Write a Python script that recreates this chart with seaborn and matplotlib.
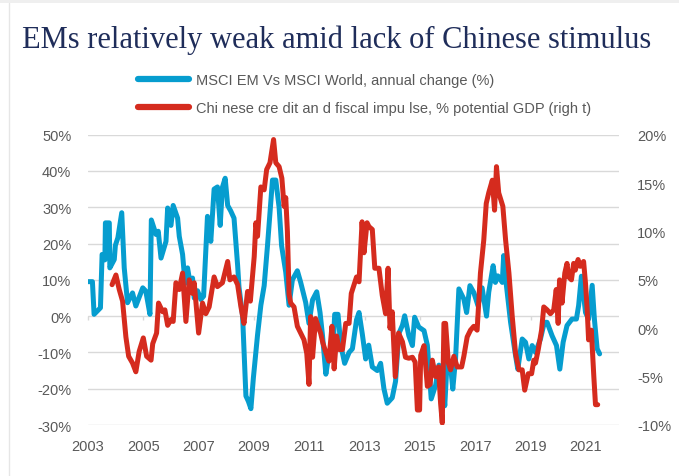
import matplotlib
matplotlib.use("Agg")
import matplotlib.pyplot as plt
import seaborn as sns
from matplotlib.lines import Line2D
from matplotlib.patches import Rectangle

# MSCI EM vs MSCI World, annual change (%) -- left axis
em_years = [2003.00, 2003.16, 2003.22, 2003.45, 2003.51, 2003.61, 2003.63, 2003.77, 2003.79, 2003.95,
            2003.99, 2004.08, 2004.22, 2004.31, 2004.43, 2004.61, 2004.73, 2004.98, 2005.09, 2005.24,
            2005.29, 2005.46, 2005.54, 2005.64, 2005.82, 2005.88, 2006.00, 2006.08, 2006.24, 2006.30,
            2006.42, 2006.51, 2006.60, 2006.72, 2006.78, 2006.84, 2006.96, 2007.08, 2007.18, 2007.32,
            2007.44, 2007.56, 2007.68, 2007.78, 2007.86, 2007.96, 2008.05, 2008.16, 2008.28, 2008.41,
            2008.46, 2008.59, 2008.71, 2008.80, 2008.89, 2008.98, 2009.13, 2009.25, 2009.37, 2009.49,
            2009.67, 2009.79, 2009.91, 2010.00, 2010.15, 2010.27, 2010.39, 2010.57, 2010.69, 2010.87,
            2010.99, 2011.12, 2011.27, 2011.39, 2011.48, 2011.60, 2011.71, 2011.84, 2011.92, 2012.04,
            2012.14, 2012.28, 2012.44, 2012.56, 2012.71, 2012.80, 2012.92, 2013.04, 2013.15, 2013.28,
            2013.46, 2013.58, 2013.70, 2013.82, 2014.00, 2014.12, 2014.24, 2014.37, 2014.45, 2014.60,
            2014.73, 2014.81, 2014.96, 2015.15, 2015.27, 2015.41, 2015.57, 2015.69, 2015.81, 2015.90,
            2015.99, 2016.11, 2016.19, 2016.29, 2016.41, 2016.59, 2016.69, 2016.81, 2016.95, 2017.10,
            2017.25, 2017.41, 2017.49, 2017.65, 2017.73, 2017.82, 2017.98, 2018.03, 2018.13, 2018.28,
            2018.46, 2018.54, 2018.70, 2018.82, 2018.94, 2019.06, 2019.18, 2019.36, 2019.50, 2019.60,
            2019.78, 2019.94, 2020.06, 2020.18, 2020.32, 2020.50, 2020.66, 2020.74, 2020.84, 2020.99,
            2021.10, 2021.23, 2021.31, 2021.41, 2021.50]
em_values = [9.5, 9.5, 0.5, 2.3, 17.0, 15.5, 25.7, 25.7, 13.3, 15.6,
             19.5, 21.6, 28.5, 13.3, 3.7, 6.4, 2.8, 7.8, 6.9, 0.5,
             26.5, 22.5, 23.4, 16.0, 20.6, 29.8, 25.0, 30.5, 27.0, 22.0,
             17.0, 9.0, 13.3, 7.8, 10.5, 5.0, 7.0, 4.6, 5.5, 27.5,
             20.6, 35.0, 35.6, 25.0, 35.5, 38.0, 30.5, 29.0, 27.0, 14.0,
             8.0, 0.0, -22.0, -23.5, -25.5, -17.0, -5.2, 3.0, 8.4, 19.4,
             37.5, 37.5, 30.0, 19.4, 12.1, 3.0, 10.0, 12.5, 9.3, 3.8,
             -2.0, 4.5, 6.7, 1.0, -5.4, -16.0, -10.5, -12.0, 0.5, 0.5,
             -8.0, -13.0, -10.0, -9.0, -1.0, 1.0, -5.0, -11.8, -8.0, -14.0,
             -15.0, -13.0, -20.0, -24.0, -22.5, -18.0, -4.8, -2.5, 0.1, -5.4,
             -8.1, -0.3, -3.0, -4.0, -8.0, -22.8, -19.0, -13.5, -16.4, -24.7,
             -11.8, -13.7, -20.1, -11.8, 7.5, 4.7, 1.0, 8.4, 6.5, 2.9,
             7.8, 0.0, 6.6, 13.9, 9.3, 11.1, 9.3, 16.7, 8.4, -1.7,
             -10.9, -14.6, -6.3, -7.2, -11.8, -8.1, -10.0, -6.3, -1.7, -1.7,
             -5.4, -8.1, -14.6, -7.2, -2.6, -0.8, -0.8, 2.9, 11.0, 1.0,
             -0.8, 8.5, -0.8, -9.0, -10.4]

# Chinese credit and fiscal impulse, % potential GDP -- right axis
cn_years = [2003.87, 2004.01, 2004.13, 2004.25, 2004.37, 2004.47, 2004.61, 2004.73, 2004.85, 2005.00,
            2005.12, 2005.28, 2005.34, 2005.48, 2005.55, 2005.70, 2005.78, 2005.88, 2006.00, 2006.08,
            2006.18, 2006.30, 2006.42, 2006.54, 2006.66, 2006.78, 2006.84, 2007.00, 2007.14, 2007.26,
            2007.38, 2007.56, 2007.68, 2007.86, 2008.05, 2008.13, 2008.28, 2008.41, 2008.53, 2008.64,
            2008.77, 2008.87, 2009.01, 2009.07, 2009.13, 2009.25, 2009.37, 2009.46, 2009.58, 2009.71,
            2009.79, 2009.91, 2010.01, 2010.09, 2010.15, 2010.21, 2010.27, 2010.33, 2010.45, 2010.57,
            2010.69, 2010.81, 2010.91, 2010.99, 2011.05, 2011.12, 2011.23, 2011.32, 2011.41, 2011.49,
            2011.60, 2011.71, 2011.82, 2011.90, 2011.99, 2012.08, 2012.20, 2012.32, 2012.44, 2012.52,
            2012.62, 2012.71, 2012.80, 2012.91, 2012.98, 2013.09, 2013.16, 2013.28, 2013.37, 2013.52,
            2013.64, 2013.76, 2013.85, 2013.92, 2014.00, 2014.11, 2014.23, 2014.37, 2014.48, 2014.60,
            2014.73, 2014.83, 2014.91, 2014.99, 2015.03, 2015.15, 2015.27, 2015.37, 2015.45, 2015.57,
            2015.67, 2015.75, 2015.81, 2015.87, 2015.93, 2016.03, 2016.11, 2016.23, 2016.35, 2016.51,
            2016.59, 2016.71, 2016.83, 2016.95, 2017.07, 2017.19, 2017.31, 2017.40, 2017.49, 2017.62,
            2017.70, 2017.77, 2017.85, 2018.00, 2018.10, 2018.22, 2018.34, 2018.46, 2018.58, 2018.70,
            2018.79, 2018.92, 2019.04, 2019.12, 2019.18, 2019.28, 2019.40, 2019.48, 2019.60, 2019.72,
            2019.84, 2019.93, 2020.00, 2020.05, 2020.14, 2020.24, 2020.32, 2020.38, 2020.48, 2020.56,
            2020.62, 2020.72, 2020.80, 2020.92, 2020.99, 2021.05, 2021.10, 2021.20, 2021.29, 2021.35,
            2021.43]
cn_values = [4.5, 5.5, 4.0, 2.8, -0.9, -2.9, -3.6, -4.5, -2.4, -1.0,
             -2.9, -3.3, -1.6, -0.5, 2.6, 1.7, 1.9, 0.3, 0.9, 0.7,
             4.7, 4.0, 5.7, 0.7, 5.0, 3.6, 4.7, -0.5, 2.6, 1.5,
             2.2, 5.3, 4.3, 4.7, 6.9, 5.0, 5.3, 4.5, 2.2, 0.5,
             3.8, 2.8, 7.4, 10.9, 9.5, 14.6, 14.3, 16.4, 17.1, 19.5,
             17.1, 16.7, 15.5, 12.6, 13.5, 10.0, 3.5, 2.6, 2.2, 0.2,
             -0.5, -1.2, -2.6, -5.8, 1.2, -3.0, 1.0, 0.2, -0.5, -1.5,
             -2.5, -3.4, 0.2, -4.2, -0.8, -2.2, -2.2, 0.5, 0.5, 3.6,
             4.5, 5.3, 4.8, 11.0, 7.8, 10.9, 10.5, 10.2, 6.2, 6.2,
             3.4, 1.5, 6.2, 0.0, 1.7, -5.0, -0.5, -1.4, -3.0, -3.1,
             -3.0, -3.5, -8.45, -8.45, -2.8, -1.8, -6.0, -5.8, -3.3, -5.0,
             -4.0, -7.8, -9.8, 0.5, 0.5, -3.6, -4.3, -2.9, -4.0, -4.0,
             -2.9, -0.9, -0.2, 0.2, -0.2, 5.7, 9.1, 12.9, 14.0, 15.3,
             12.2, 16.7, 14.0, 12.6, 9.1, 5.7, 1.2, -2.6, -4.3, -4.3,
             -6.4, -4.7, -4.7, -3.3, -3.6, -2.2, -0.2, 2.2, 1.9, 1.5,
             1.9, 4.0, 0.5, 5.0, 2.6, 5.7, 6.7, 5.3, 5.0, 6.7,
             6.0, 7.1, 6.4, 6.9, 4.6, 1.9, -1.2, -0.2, -5.0, -7.9,
             -7.9]

year_ticks = [2003, 2005, 2007, 2009, 2011, 2013, 2015, 2017, 2019, 2021]
left_ticks = [50, 40, 30, 20, 10, 0, -10, -20, -30]
right_ticks = [20, 15, 10, 5, 0, -5, -10]

title = "EMs relatively weak amid lack of Chinese stimulus"
label_em = "MSCI EM Vs MSCI World, annual change (%)"
label_cn = "Chi nese cre dit an d fiscal impu lse, % potential GDP (righ t)"

BLUE = "#069DCF"
RED = "#D52B1E"
GRID = "#D9D9D9"
TEXT = "#595959"

sns.set_theme(style="white")
plt.rcParams["font.family"] = ["Liberation Sans", "DejaVu Sans"]

W, H = 679, 477
fig = plt.figure(figsize=(W / 100, H / 100), dpi=100)
ax = fig.add_axes([88 / W, 1 - 426 / H, (619 - 88) / W, (426 - 135.7) / H])
ax2 = ax.twinx()

# panel edge
fig.patches.append(Rectangle((0, 1 - 4 / H), 1, 4 / H, transform=fig.transFigure,
                             facecolor="#EFEFEF", edgecolor="none", zorder=0))
fig.add_artist(Line2D([9 / W, 9 / W], [0, 1 - 4 / H], transform=fig.transFigure,
                      color="#E6E6E6", lw=1))

sns.lineplot(x=em_years, y=em_values, ax=ax, color=BLUE, lw=3.6, sort=False, estimator=None)
sns.lineplot(x=cn_years, y=cn_values, ax=ax2, color=RED, lw=3.6, sort=False, estimator=None)

ax.set_xlim(2003.0, 2022.2)
ax.set_ylim(-30, 50)
ax2.set_ylim(-10, 20)
ax.set_yticks(left_ticks)
ax2.set_yticks(right_ticks)
ax.set_yticklabels([f"{t}%" for t in left_ticks])
ax2.set_yticklabels([f"{t}%" for t in right_ticks])
ax.set_xticks(year_ticks)
ax.set_xticklabels([str(y) for y in year_ticks])

ax.grid(axis="y", color=GRID, lw=1.0)
ax.grid(axis="x", visible=False)
ax2.grid(False)
for a in (ax, ax2):
    for s in a.spines.values():
        s.set_visible(False)
ax.tick_params(axis="y", length=0, pad=12, labelsize=10.5, labelcolor=TEXT)
ax2.tick_params(axis="y", length=0, pad=13, labelsize=10.5, labelcolor=TEXT)
ax.tick_params(axis="x", length=0, pad=10, labelsize=10.5, labelcolor=TEXT)
ax.set_xlabel("")
ax.set_ylabel("")
ax2.set_ylabel("")

# category axis crossing at zero, with its tick marks
zero_ax = ax.secondary_xaxis(30 / 80)
zero_ax.set_xticks(year_ticks)
zero_ax.tick_params(axis="x", length=3, color=GRID, width=1, labelbottom=False)
zero_ax.spines["bottom"].set_visible(False)

fig.text(22 / W, 1 - 40 / H, title, family=["Liberation Serif"], fontsize=22,
         color="#1F2D5A", va="center", ha="left")

handles = [Line2D([], [], color=BLUE, lw=4.5), Line2D([], [], color=RED, lw=4.5)]
fig.legend(handles, [label_em, label_cn], loc="upper left",
           bbox_to_anchor=(132 / W, 1 - 68 / H), frameon=False,
           fontsize=10.5, labelcolor=TEXT, handlelength=3.5, handletextpad=0.5,
           labelspacing=1.0, borderaxespad=0)

fig.savefig("out.png", dpi=100)
